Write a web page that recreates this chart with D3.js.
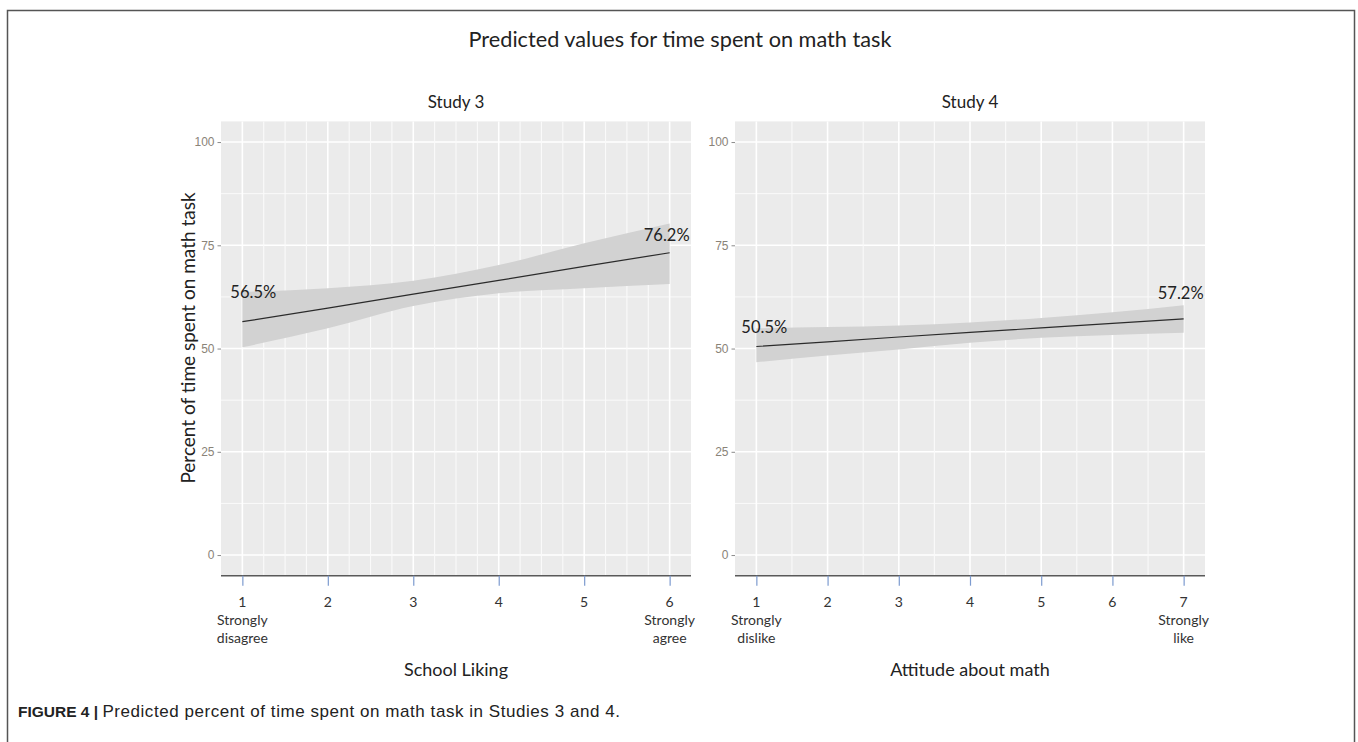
<!DOCTYPE html>
<html>
<head>
<meta charset="utf-8">
<script src="https://cdn.jsdelivr.net/npm/d3@7"></script>
<style>
  body { margin: 0; background: #fff; }
  text { font-family: Lato, "Open Sans", sans-serif; }
</style>
</head>
<body>
<svg id="fig" width="1358" height="742"></svg>
<script>
// ---- data ----
const study3_x = [1, 2, 3, 4, 5, 6]
const study3_fit = [56.5, 59.8, 63.2, 66.5, 69.9, 73.2]
const study3_hi = [63.7, 64.6, 66.4, 70.2, 75.5, 80.3]
const study3_lo = [50.3, 54.9, 60.3, 63.4, 64.6, 65.6]
const study3_tickLabels = ["1\nStrongly\ndisagree", "2", "3", "4", "5", "6\nStrongly\nagree"]
const study3_endLabels = ["56.5%", "76.2%"]

const study4_x = [1, 2, 3, 4, 5, 6, 7]
const study4_fit = [50.5, 51.6, 52.8, 53.9, 55.0, 56.1, 57.2]
const study4_hi = [54.9, 55.2, 55.6, 56.3, 57.4, 58.8, 60.5]
const study4_lo = [46.7, 48.3, 49.8, 51.4, 52.6, 53.3, 53.8]
const study4_tickLabels = ["1\nStrongly\ndislike", "2", "3", "4", "5", "6", "7\nStrongly\nlike"]
const study4_endLabels = ["50.5%", "57.2%"]

const yTicks = [0, 25, 50, 75, 100]

const svg = d3.select("#fig")

// outer frame of the figure
svg.append("rect")
    .attr("x", 7.5).attr("y", 10.5)
    .attr("width", 1347).attr("height", 760)
    .attr("fill", "none").attr("stroke", "#555").attr("stroke-width", 1.5)

svg.append("text")
    .attr("x", 680).attr("y", 47)
    .attr("text-anchor", "middle")
    .attr("font-size", 21.7).attr("fill", "#222")
    .text("Predicted values for time spent on math task")

svg.append("text")
    .attr("transform", "translate(195,338) rotate(-90)")
    .attr("text-anchor", "middle")
    .attr("font-size", 19).attr("fill", "#222")
    .text("Percent of time spent on math task")

// caption
const cap = svg.append("text")
    .attr("x", 18).attr("y", 717)
    .attr("font-size", 15.5).attr("fill", "#222")
    .style("font-family", "'Liberation Sans', Arial, sans-serif")
cap.append("tspan").attr("font-weight", "bold").text("FIGURE 4 | ")
cap.append("tspan")
    .attr("font-size", 17)
    .attr("letter-spacing", 0.55)
    .text("Predicted percent of time spent on math task in Studies 3 and 4.")

function draw_panel(opt){
    const top = 121.4, bottom = 575.7
    const xScale = d3.scaleLinear()
        .domain(opt.xdomain)
        .range([opt.left, opt.right])
    const yScale = d3.scaleLinear()
        .domain([-5, 105])
        .range([bottom, top])

    const g = svg.append("g")

    g.append("rect")
        .attr("x", opt.left).attr("y", top)
        .attr("width", opt.right - opt.left).attr("height", bottom - top)
        .attr("fill", "#ebebeb")

    // minor + major grid
    const yMinor = [12.5, 37.5, 62.5, 87.5]
    g.selectAll(".ymin").data(yMinor).enter().append("line")
        .attr("x1", opt.left).attr("x2", opt.right)
        .attr("y1", d => yScale(d)).attr("y2", d => yScale(d))
        .attr("stroke", "#fafafa").attr("stroke-width", 1)
    g.selectAll(".ymaj").data(yTicks).enter().append("line")
        .attr("x1", opt.left).attr("x2", opt.right)
        .attr("y1", d => yScale(d)).attr("y2", d => yScale(d))
        .attr("stroke", "#fff").attr("stroke-width", 1.6)
    g.selectAll(".xg").data(opt.xgrid).enter().append("line")
        .attr("y1", top).attr("y2", bottom)
        .attr("x1", d => xScale(d)).attr("x2", d => xScale(d))
        .attr("stroke", d => Number.isInteger(d) ? "#fff" : "#fafafa")
        .attr("stroke-width", d => Number.isInteger(d) ? 1.6 : 1.1)

    // confidence band
    const rows = opt.x.map((x, i) => ({x: x, fit: opt.fit[i], lo: opt.lo[i], hi: opt.hi[i]}))
    const band = d3.area()
        .x(d => xScale(d.x))
        .y0(d => yScale(d.lo))
        .y1(d => yScale(d.hi))
        .curve(d3.curveMonotoneX)
    g.append("path").datum(rows)
        .attr("d", band)
        .attr("fill", "#d2d2d2")

    const line = d3.line()
        .x(d => xScale(d.x))
        .y(d => yScale(d.fit))
    g.append("path").datum(rows)
        .attr("d", line)
        .attr("fill", "none").attr("stroke", "#2b2b2b").attr("stroke-width", 1.2)

    // end value labels
    const first = rows[0], last = rows[rows.length - 1]
    g.append("text")
        .attr("x", xScale(first.x) + opt.startDx).attr("y", yScale(first.fit) + opt.startDy)
        .attr("font-size", 16.5).attr("fill", "#222")
        .text(opt.endLabels[0])
    g.append("text")
        .attr("x", xScale(last.x) + 20).attr("y", yScale(last.fit) + opt.endDy)
        .attr("text-anchor", "end")
        .attr("font-size", 16.5).attr("fill", "#222")
        .text(opt.endLabels[1])

    // y axis (ggplot style, no domain line)
    const yAxis = d3.axisLeft(yScale)
        .tickValues(yTicks)
        .tickSize(3.5)
        .tickPadding(3)
    const ya = g.append("g")
        .attr("transform", `translate(${opt.left},0)`)
        .call(yAxis)
    ya.select(".domain").remove()
    ya.selectAll(".tick line").attr("stroke", "#8a8a8a")
    ya.selectAll(".tick text")
        .attr("fill", "#8a8378").attr("font-size", 12)
        .style("font-family", "'Liberation Sans', Arial, sans-serif")

    // x axis line
    g.append("line")
        .attr("x1", opt.left).attr("x2", opt.right)
        .attr("y1", bottom).attr("y2", bottom)
        .attr("stroke", "#595959").attr("stroke-width", 1.5)

    const xAxis = d3.axisBottom(xScale)
        .tickValues(opt.x)
        .tickSize(10)
        .tickFormat("")
    const xa = g.append("g")
        .attr("transform", `translate(0,${bottom})`)
        .call(xAxis)
    xa.select(".domain").remove()
    xa.selectAll(".tick line").attr("stroke", "#7d9bcf").attr("stroke-width", 1.2)

    // multi-line tick labels
    g.selectAll(".xlab").data(opt.x).enter().append("text")
        .attr("text-anchor", "middle")
        .attr("font-size", 14).attr("fill", "#333")
        .each(function(d, i){
            const lines = opt.tickLabels[i].split("\n")
            d3.select(this).selectAll("tspan").data(lines).enter().append("tspan")
                .attr("x", xScale(d))
                .attr("y", (l, j) => 607 + j * 18)
                .text(l => l)
        })

    g.append("text")
        .attr("x", (opt.left + opt.right) / 2).attr("y", 108)
        .attr("text-anchor", "middle")
        .attr("font-size", 17).attr("fill", "#222")
        .text(opt.title)

    g.append("text")
        .attr("x", (opt.left + opt.right) / 2).attr("y", 676)
        .attr("text-anchor", "middle")
        .attr("font-size", 18).attr("fill", "#222")
        .text(opt.xtitle)
}

draw_panel({
    title: "Study 3", xtitle: "School Liking",
    x: study3_x, fit: study3_fit, lo: study3_lo, hi: study3_hi,
    tickLabels: study3_tickLabels, endLabels: study3_endLabels,
    xdomain: [0.75, 6.25], left: 221, right: 691,
    xgrid: d3.range(1, 6.01, 0.25),
    startDx: -12, startDy: -24, endDy: -12
})

draw_panel({
    title: "Study 4", xtitle: "Attitude about math",
    x: study4_x, fit: study4_fit, lo: study4_lo, hi: study4_hi,
    tickLabels: study4_tickLabels, endLabels: study4_endLabels,
    xdomain: [0.7, 7.3], left: 735, right: 1205,
    xgrid: d3.range(1, 7.01, 0.5),
    startDx: -15, startDy: -13, endDy: -20
})
</script>
</body>
</html>
